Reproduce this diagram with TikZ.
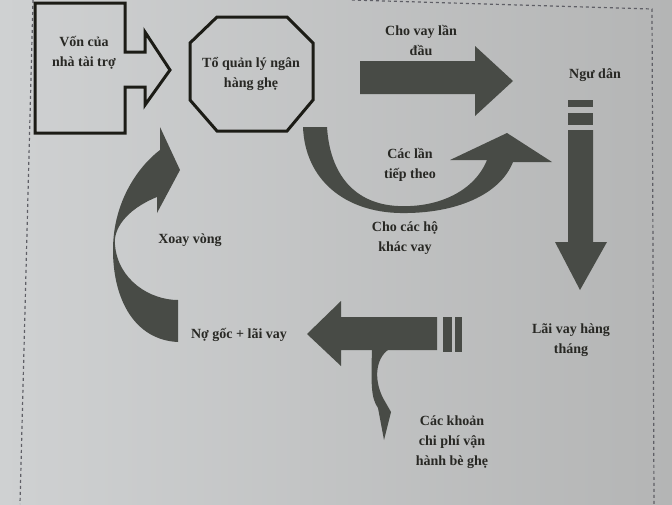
\documentclass[tikz,border=0pt]{standalone}
\usepackage{fontspec}
\setmainfont{Liberation Serif}
\usepackage{xcolor}
\definecolor{PaperLight}{RGB}{207,209,210}
\definecolor{PaperDark}{RGB}{180,181,181}
\definecolor{ArrowGray}{RGB}{72,75,70}
\definecolor{InkBlack}{RGB}{28,28,22}
\definecolor{TextGray}{RGB}{40,40,36}
\definecolor{DashGray}{RGB}{95,95,102}
\usepackage{tikz}
\tikzset{
  % Text labels
  lbl/.style={
    align=center, inner sep=1pt,
    font=\fontsize{14}{20}\selectfont\bfseries,
    text=TextGray
  },
  % Black outlined shapes
  outl/.style={draw=InkBlack, line width=3pt, line join=miter},
  % Dark block arrows
  blockarr/.style={fill=ArrowGray, draw=none},
  % Dashed page frame
  dashframe/.style={DashGray, line width=1.2pt, dash pattern=on 3pt off 3pt},
}

\begin{document}
\begin{tikzpicture}[x=1pt, y=-1pt]

  %% Paper
  \shade[left color=PaperLight, right color=PaperDark] (0,0) rectangle (672,504);
  \useasboundingbox (0,0) rectangle (672,504);

  %% Dashed frame
  \draw[dashframe] (33,0) -- (20,504);
  \draw[dashframe] (352,0) -- (652,9) -- (654,504);

  %% Donor box with arrow notch
  \draw[outl] (35,3) -- (125,3) -- (125,52) -- (145,52) -- (145,32) -- (170,70)
    -- (145,105) -- (145,87) -- (125,87) -- (125,133) -- (35,133) -- cycle;
  \node[lbl] (von) at (84,53) {Vốn của\\nhà tài trợ};

  %% Octagon
  \draw[outl] (217,17) -- (287,17) -- (313,43) -- (313,100) -- (287,131)
    -- (217,131) -- (190,100) -- (190,43) -- cycle;
  \node[lbl] (tq) at (251,74) {Tổ quản lý ngân\\hàng ghẹ};

  %% First loan
  \fill[blockarr] (360,61) -- (475,61) -- (475,46) -- (513,81) -- (475,116)
    -- (475,94) -- (360,94) -- cycle;
  \node[lbl] (dau) at (421,40) {Cho vay lần\\đầu};

  %% Next rounds (curved)
  \fill[blockarr] (303,127) -- (327,127)
    .. controls (330,175) and (355,204) .. (398,206)
    .. controls (440,208) and (475,190) .. (487,160)
    -- (450,160) -- (507,133) -- (552,162) -- (513,162)
    .. controls (500,195) and (455,214) .. (400,213)
    .. controls (345,212) and (305,180) .. (303,127) -- cycle;
  \node[lbl] (tiep) at (410,165) {Các lần\\tiếp theo};
  \node[lbl] (hokhac) at (405,238) {Cho các hộ\\khác vay};

  %% Fishermen, monthly interest
  \node[lbl] (ngudan) at (595,75) {Ngư dân};
  \fill[blockarr] (568,100) rectangle (593,107);
  \fill[blockarr] (568,113) rectangle (593,125);
  \fill[blockarr] (568,130) -- (593,130) -- (593,242) -- (607,242) -- (580,290)
    -- (555,242) -- (568,242) -- cycle;
  \node[lbl] (laivay) at (571,340) {Lãi vay hàng\\tháng};

  %% Repayment
  \fill[blockarr] (443,317) rectangle (452,352);
  \fill[blockarr] (455,317) rectangle (462,352);
  \fill[blockarr] (437,317) -- (341,317) -- (341,301) -- (307,334) -- (341,366)
    -- (341,350) -- (437,350) -- cycle;
  \node[lbl] (nogoc) at (239,335) {Nợ gốc + lãi vay};

  %% Operating costs (small wavy arrow)
  \fill[blockarr] (372,348) -- (391,348)
    .. controls (376,356) and (373,378) .. (383,398)
    -- (391,412) -- (384,440) -- (378,408)
    .. controls (371,398) and (371,385) .. (372,348) -- cycle;
  \node[lbl] (khoan) at (452,442) {Các khoản\\chi phí vận\\hành bè ghẹ};

  %% Revolving (curved)
  \fill[blockarr] (160,127) -- (180,170) -- (157,213) -- (157,197)
    .. controls (125,210) and (113,230) .. (115,245)
    .. controls (118,280) and (150,300) .. (178,300)
    -- (178,342)
    .. controls (135,340) and (113,300) .. (113,250)
    .. controls (113,200) and (140,165) .. (160,150) -- cycle;
  \node[lbl] (xoay) at (190,240) {Xoay vòng};

\end{tikzpicture}
\end{document}
